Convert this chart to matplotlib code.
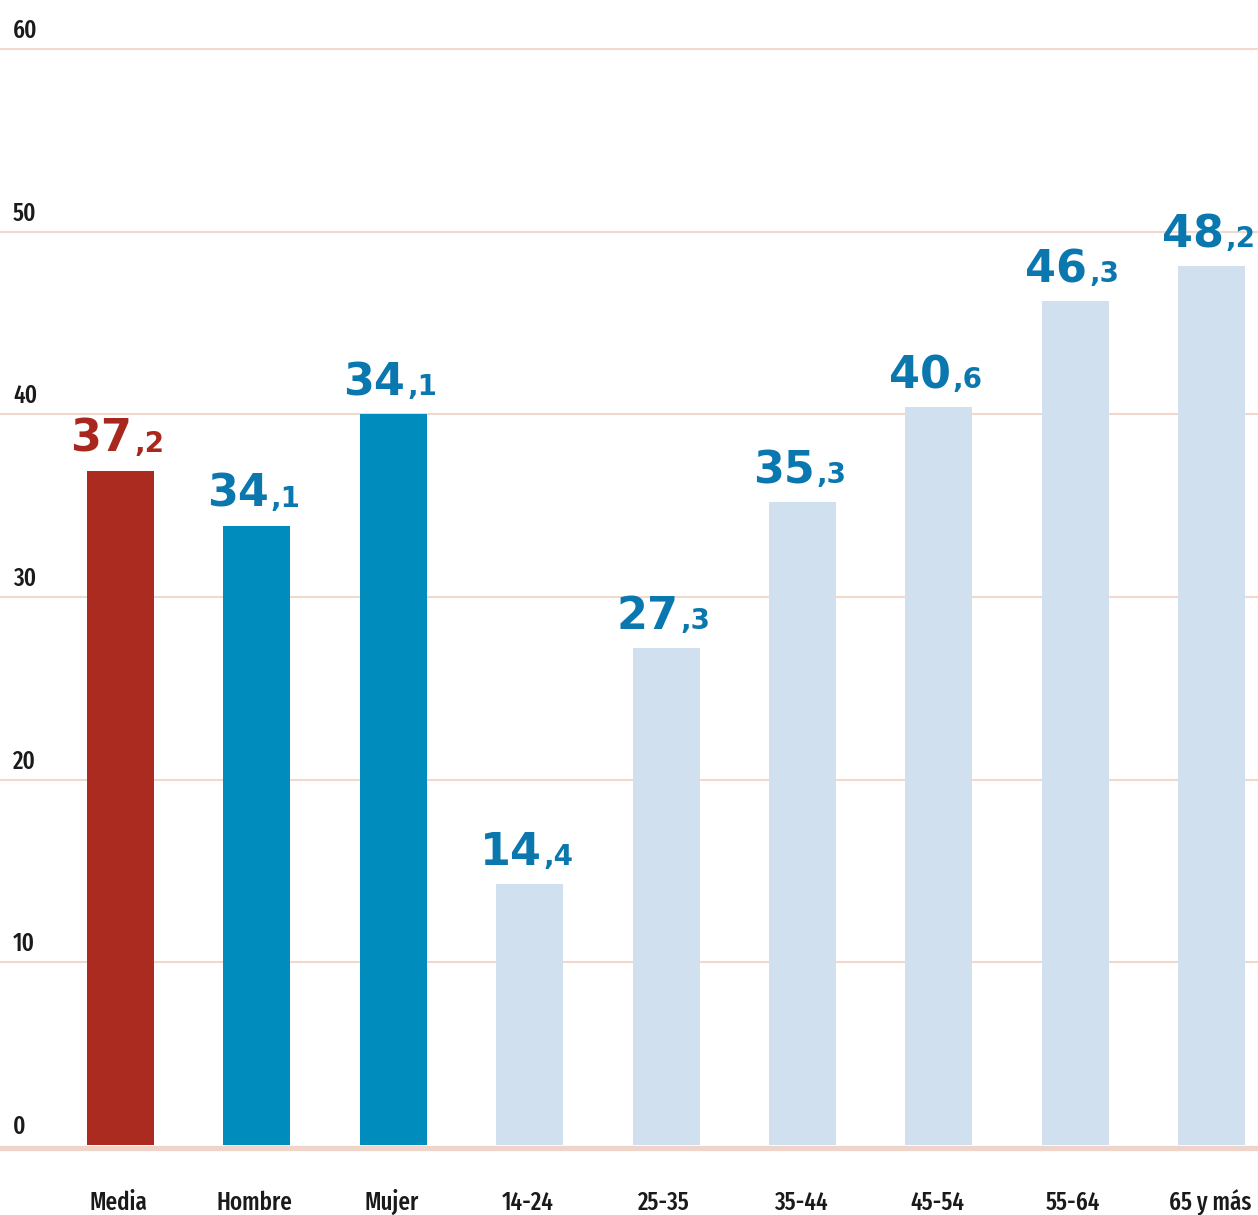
import matplotlib
matplotlib.use("Agg")
import matplotlib.pyplot as plt
from matplotlib import font_manager
from matplotlib.font_manager import FontProperties

categories = ["Media", "Hombre", "Mujer", "14-24", "25-35", "35-44", "45-54", "55-64", "65 y más"]
bar_values = [36.9, 33.9, 40.0, 14.3, 27.2, 35.2, 40.4, 46.2, 48.1]
label_int = ["37", "34", "34", "14", "27", "35", "40", "46", "48"]
label_dec = [",2", ",1", ",1", ",4", ",3", ",3", ",6", ",3", ",2"]
y_ticks = [0, 10, 20, 30, 40, 50, 60]

bar_colors = ["#ac2b20", "#008dbd", "#008dbd"] + ["#d0e0ee"] * 6
label_colors = ["#a8281e"] + ["#0a78ae"] * 8


def _num(v, table):
    if isinstance(v, str):
        return table.get(v, 400)
    return v


def find_condensed():
    best = None
    for f in font_manager.fontManager.ttflist:
        st = _num(f.stretch, font_manager.stretch_dict)
        wt = _num(f.weight, font_manager.weight_dict)
        nm = f.name.lower()
        fn = f.fname.lower()
        if f.style != "normal":
            continue
        if "extracondensed" in fn.replace("-", "").replace("_", "") or "extra condensed" in nm:
            st = min(st, 200)
        is_cond = st < 500 or "narrow" in nm or "condensed" in nm or "condensed" in fn
        if not is_cond:
            continue
        score = abs(wt - 500) * 0.5 + abs(st - 200) * 0.6
        if best is None or score < best[0]:
            best = (score, f.fname)
    return best[1] if best else None


cond_file = find_condensed()


def cond_fp(size):
    if cond_file:
        return FontProperties(fname=cond_file, size=size)
    return FontProperties(family="DejaVu Sans", size=size)


heavy = "DejaVu Sans"

W, H = 1258, 1215
fig = plt.figure(figsize=(W / 100, H / 100), dpi=100)
y0_px, y60_px = 1145, 49
ax = fig.add_axes([0, (H - y0_px) / H, 1, (y0_px - y60_px) / H])
ax.set_ylim(0, 60)
step = 136.4
c0 = 120.5
ax.set_xlim(-c0 / step, (W - c0) / step)
for s in ax.spines.values():
    s.set_visible(False)
ax.set_xticks([])
ax.set_yticks([])

x = list(range(len(categories)))
grid_c = "#f2d9ce"
for t in y_ticks[1:]:
    ax.axhline(t, color=grid_c, lw=1.5, zorder=0, clip_on=False)
ax.axhline(-0.14, color="#efd5c9", lw=3.8, zorder=0, clip_on=False)

ax.bar(x, bar_values, width=67 / step, color=bar_colors, zorder=2)

px = 1 / step  # data units per pixel (x)
py = 60 / (y0_px - y60_px)  # data units per pixel (y)

for t in y_ticks:
    ax.text(13 * px - c0 / step, t + 11 * py, str(t), ha="left", va="baseline",
            fontproperties=cond_fp(18), color="#1a1a1a", clip_on=False)

xlabels = []
for i, c in enumerate(categories):
    xlabels.append(ax.text(i - 2 * px, -65 * py, c, ha="center", va="baseline",
                           fontproperties=cond_fp(18), color="#1a1a1a", clip_on=False))

fig.canvas.draw()
r = fig.canvas.get_renderer()
# keep last x label inside the figure
bb = xlabels[-1].get_window_extent(r)
if bb.x1 > W - 6:
    xlabels[-1].set_x(xlabels[-1].get_position()[0] - (bb.x1 - (W - 6)) * px)

for i in x:
    yb = bar_values[i] + 19 * py
    t1 = ax.text(i, yb, label_int[i], ha="right", va="baseline", fontsize=32,
                 family=heavy, weight="bold", color=label_colors[i], clip_on=False)
    t2 = ax.text(i, yb, label_dec[i], ha="left", va="baseline", fontsize=20,
                 family=heavy, weight="bold", color=label_colors[i], clip_on=False)
    w1 = t1.get_window_extent(r).width
    w2 = t2.get_window_extent(r).width
    dx = (w1 - (w1 + w2) / 2) * px - 4 * px
    t1.set_x(i + dx)
    t2.set_x(i + dx + 2 * px)

fig.savefig("out.png", dpi=100)
